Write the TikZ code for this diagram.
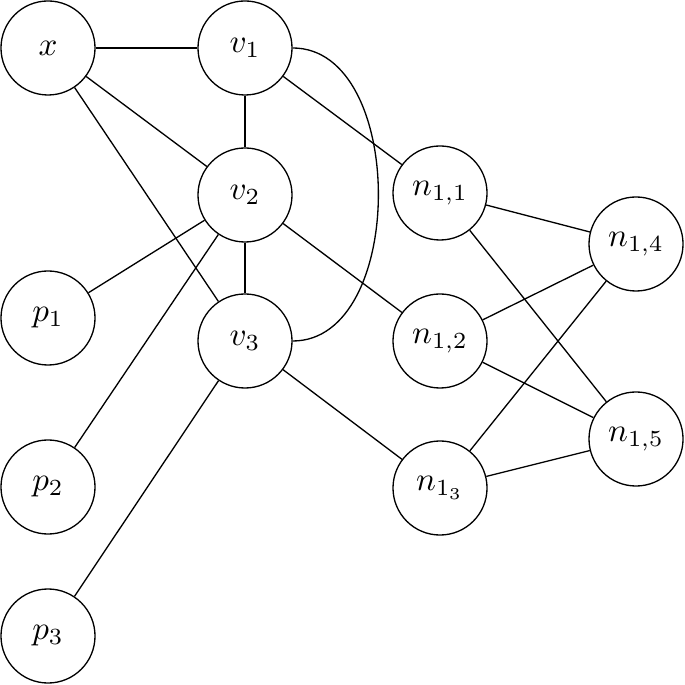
\documentclass[tikz,border=0pt]{standalone}
\begin{document}
\begin{tikzpicture}[x=0.01064cm,y=-0.01064cm,
  vtx/.style={draw,circle,minimum size=1cm,inner sep=0pt,line width=0.4pt}]
\useasboundingbox (0,0) rectangle (685,685);
\node[vtx] (x) at (48,48) {$x$};
\node[vtx] (v1) at (245,48) {$v_1$};
\node[vtx] (v2) at (245,195) {$v_2$};
\node[vtx] (v3) at (245,341) {$v_3$};
\node[vtx] (p1) at (48,318) {$p_1$};
\node[vtx] (p2) at (48,487) {$p_2$};
\node[vtx] (p3) at (48,636) {$p_3$};
\node[vtx] (n11) at (440,193) {$n_{1,1}$};
\node[vtx] (n12) at (440,341) {$n_{1,2}$};
\node[vtx] (n13) at (440,488) {$n_{1_3}$};
\node[vtx] (n14) at (636,244) {$n_{1,4}$};
\node[vtx] (n15) at (636,439) {$n_{1,5}$};
\draw (x) -- (v1);
\draw (x) -- (v2);
\draw (x) -- (v3);
\draw (v1) -- (v2);
\draw (v1) -- (n11);
\draw (v1) to[out=0,in=0] (v3);
\draw (v2) -- (v3);
\draw (v2) -- (p1);
\draw (v2) -- (p2);
\draw (v2) -- (n12);
\draw (v3) -- (p3);
\draw (v3) -- (n13);
\draw (n11) -- (n14);
\draw (n11) -- (n15);
\draw (n12) -- (n14);
\draw (n12) -- (n15);
\draw (n13) -- (n14);
\draw (n13) -- (n15);
\end{tikzpicture}
\end{document}
